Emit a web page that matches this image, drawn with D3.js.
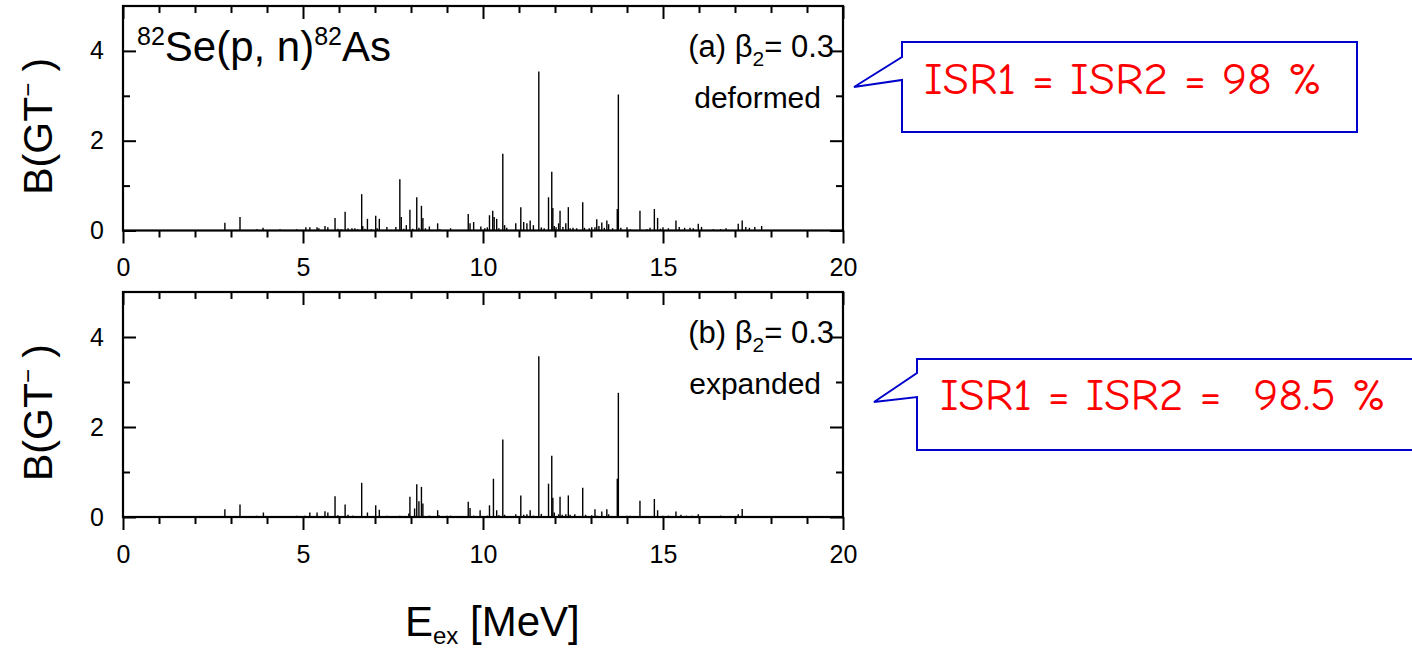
<!DOCTYPE html>
<html><head><meta charset="utf-8">
<script src="https://cdn.jsdelivr.net/npm/d3@7"></script>
<style>
html,body{margin:0;padding:0;background:#fff;}
svg{display:block;font-family:"Liberation Sans",Arial,sans-serif;}
</style></head>
<body>
<script>
// ---------- data ----------
const xTickLabels = [0, 5, 10, 15, 20];
const yTickLabels = [0, 2, 4];

const energiesA = [2.83,3.25,3.72,3.89,4.36,4.83,5.08,5.19,5.39,5.44,5.61,5.69,5.89,5.97,6.06,6.17,6.25,6.36,6.44,6.52,
  6.63,6.66,6.72,6.79,6.90,7.02,7.06,7.12,7.33,7.58,7.69,7.73,7.80,7.87,7.97,8.05,8.16,8.22,8.29,8.33,
  8.40,8.51,8.74,8.80,9.10,9.59,9.64,9.74,9.94,10.05,10.12,10.18,10.27,10.31,10.38,10.44,10.55,10.60,10.66,10.91,
  11.05,11.13,11.22,11.31,11.40,11.55,11.62,11.70,11.82,11.91,11.94,11.98,12.03,12.10,12.14,12.22,12.30,12.37,12.42,12.50,
  12.60,12.77,12.82,12.95,13.02,13.11,13.16,13.22,13.30,13.37,13.44,13.49,13.60,13.73,13.76,13.83,14.00,14.09,14.36,14.55,
  14.64,14.76,14.85,14.93,15.00,15.15,15.36,15.45,15.60,15.75,15.84,15.98,16.07,16.40,16.60,16.75,17.09,17.20,17.30,17.40,
  17.55,17.74];
const strengthsA = [0.17,0.30,0.03,0.06,0.03,0.03,0.07,0.07,0.07,0.05,0.10,0.07,0.28,0.04,0.03,0.42,0.05,0.05,0.05,0.03,
  0.81,0.10,0.04,0.26,0.03,0.33,0.05,0.26,0.08,0.08,1.14,0.30,0.04,0.12,0.46,0.04,0.74,0.06,0.55,0.28,
  0.05,0.09,0.16,0.03,0.05,0.37,0.16,0.19,0.09,0.05,0.07,0.34,0.44,0.30,0.26,0.05,1.71,0.12,0.06,0.16,
  0.52,0.19,0.16,0.22,0.12,3.54,0.07,0.05,0.74,1.31,0.50,0.10,0.07,0.16,0.44,0.08,0.16,0.52,0.05,0.06,
  0.05,0.63,0.06,0.05,0.07,0.07,0.25,0.10,0.18,0.06,0.22,0.14,0.05,0.48,3.03,0.06,0.07,0.03,0.44,0.03,
  0.06,0.48,0.28,0.04,0.07,0.05,0.22,0.08,0.06,0.06,0.05,0.15,0.08,0.03,0.03,0.05,0.15,0.22,0.08,0.06,
  0.08,0.10];

const energiesB = [2.83,3.25,3.72,3.90,4.36,4.83,5.05,5.19,5.39,5.61,5.69,5.89,5.97,6.17,6.25,6.38,6.63,6.79,7.02,7.12,
  7.33,7.69,7.94,7.97,8.10,8.16,8.22,8.29,8.33,8.51,8.74,8.78,9.00,9.10,9.59,9.64,9.74,9.92,10.12,10.18,
  10.29,10.38,10.44,10.55,10.60,10.91,11.05,11.13,11.22,11.31,11.40,11.55,11.62,11.82,11.91,11.94,11.98,12.10,12.14,12.20,
  12.30,12.37,12.42,12.55,12.77,12.85,13.02,13.11,13.16,13.30,13.44,13.49,13.73,13.76,14.00,14.09,14.36,14.76,14.85,15.00,
  15.15,15.36,15.50,15.65,15.80,15.98,16.50,16.60,17.09,17.20,17.35,17.50,17.70];
const strengthsB = [0.17,0.28,0.03,0.10,0.02,0.03,0.03,0.10,0.10,0.13,0.10,0.46,0.04,0.28,0.05,0.03,0.76,0.10,0.26,0.16,
  0.03,0.03,0.08,0.45,0.19,0.73,0.35,0.67,0.30,0.03,0.15,0.04,0.03,0.03,0.34,0.20,0.03,0.15,0.03,0.26,
  0.85,0.15,0.04,1.72,0.05,0.06,0.48,0.05,0.06,0.15,0.03,3.57,0.07,0.74,1.36,0.43,0.10,0.06,0.45,0.05,
  0.06,0.48,0.05,0.06,0.65,0.05,0.04,0.17,0.03,0.12,0.17,0.06,0.85,2.76,0.03,0.03,0.36,0.40,0.15,0.03,
  0.03,0.12,0.05,0.03,0.03,0.06,0.02,0.03,0.06,0.18,0.02,0.02,0.02];

const panelLabelA = ["(a)", "deformed"];
const panelLabelB = ["(b)", "expanded"];
const betaValue = "0.3";
const isrTexts = ["ISR1 = ISR2 = 98 %", "ISR1 = ISR2 =  98.5 %"];

// ---------- layout ----------
const W = 1412, H = 654;
const svg = d3.select("body").append("svg").attr("width", W).attr("height", H);

const x = d3.scaleLinear().domain([0, 20]).range([123, 843]);
const majorX = xTickLabels;
const minorX = d3.range(0, 21).filter(v => v % 5 !== 0);
const minorY = [1, 3];

function drawPanel(top, bottom, energies, strengths, lbl) {
  const y = d3.scaleLinear().domain([0, 5]).range([bottom, top]);
  const g = svg.append("g");

  // bars
  g.selectAll("line.bar").data(energies.map((e, i) => [e, strengths[i]]))
    .enter().append("line").attr("class", "bar")
    .attr("x1", d => x(d[0])).attr("x2", d => x(d[0]))
    .attr("y1", y(0)).attr("y2", d => y(d[1]))
    .attr("stroke", "#000").attr("stroke-width", 1.4);

  const style = sel => {
    sel.select(".domain").remove();
    sel.selectAll(".tick line").attr("stroke", "#000").attr("stroke-width", 2);
    sel.selectAll(".tick text").attr("fill", "#000").style("font-size", "25px")
      .style("font-family", '"Liberation Sans",Arial,sans-serif');
  };

  // bottom axis (outward ticks + labels)
  g.append("g").attr("transform", `translate(0,${bottom})`)
    .call(d3.axisBottom(x).tickValues(majorX).tickSize(13).tickPadding(15).tickFormat(d3.format("d"))).call(style);
  g.append("g").attr("transform", `translate(0,${bottom})`)
    .call(d3.axisBottom(x).tickValues(minorX).tickSize(7).tickFormat("")).call(style);
  // top axis (inward)
  g.append("g").attr("transform", `translate(0,${top})`)
    .call(d3.axisTop(x).tickValues(majorX).tickSize(-13).tickFormat("")).call(style);
  g.append("g").attr("transform", `translate(0,${top})`)
    .call(d3.axisTop(x).tickValues(minorX).tickSize(-7).tickFormat("")).call(style);
  // left axis (inward + labels)
  g.append("g").attr("transform", `translate(${x(0)},0)`)
    .call(d3.axisLeft(y).tickValues(yTickLabels).tickSize(-13).tickPadding(19).tickFormat(d3.format("d"))).call(style);
  g.append("g").attr("transform", `translate(${x(0)},0)`)
    .call(d3.axisLeft(y).tickValues(minorY).tickSize(-7).tickFormat("")).call(style);
  // right axis (inward)
  g.append("g").attr("transform", `translate(${x(20)},0)`)
    .call(d3.axisRight(y).tickValues(yTickLabels).tickSize(-13).tickFormat("")).call(style);
  g.append("g").attr("transform", `translate(${x(20)},0)`)
    .call(d3.axisRight(y).tickValues(minorY).tickSize(-7).tickFormat("")).call(style);

  // frame
  g.append("rect").attr("x", x(0)).attr("y", top).attr("width", x(20) - x(0)).attr("height", bottom - top)
    .attr("fill", "none").attr("stroke", "#000").attr("stroke-width", 2.2);

  // panel label
  const t = g.append("text").attr("x", 834).attr("y", top + 51).attr("text-anchor", "end")
    .style("font-size", "31px").attr("fill", "#000");
  t.append("tspan").text(lbl[0] + "  \u03B2");
  t.append("tspan").attr("dy", 9).style("font-size", "21px").text("2");
  t.append("tspan").attr("dy", -9).text("= " + betaValue);
  g.append("text").attr("x", 821).attr("y", top + 102).attr("text-anchor", "end")
    .style("font-size", "30px").attr("fill", "#000").text(lbl[1]);

  // y-axis title
  const yt = g.append("text").attr("transform", `translate(52,${(top + bottom) / 2 + 8}) rotate(-90)`)
    .attr("text-anchor", "middle").style("font-size", "41px").attr("fill", "#000");
  yt.append("tspan").text("B(GT");
  yt.append("tspan").attr("dy", -16).style("font-size", "24px").text("\u2212");
  yt.append("tspan").attr("dy", 16).text(" )");
  return y;
}

drawPanel(6, 230.5, energiesA, strengthsA, panelLabelA);
drawPanel(292, 517, energiesB, strengthsB, panelLabelB);

// title of top panel
const title = svg.append("text").attr("x", 137).attr("y", 61).style("font-size", "42px").attr("fill", "#000");
title.append("tspan").attr("dy", -16).style("font-size", "25px").text("82");
title.append("tspan").attr("dy", 16).text("Se(p, n)");
title.append("tspan").attr("dy", -16).style("font-size", "25px").text("82");
title.append("tspan").attr("dy", 16).text("As");

// x-axis title
const xt = svg.append("text").attr("x", 405).attr("y", 636).style("font-size", "42px").attr("fill", "#000");
xt.append("tspan").text("E");
xt.append("tspan").attr("dy", 8).style("font-size", "24px").text("ex");
xt.append("tspan").attr("dy", -8).text(" [MeV]");

// callouts
function callout(box, tip, joinY, txt, tx, ty, tlen) {
  const [l, t, r, b] = box;
  const p = d3.path();
  p.moveTo(l, joinY[0]); p.lineTo(l, t); p.lineTo(r, t); p.lineTo(r, b); p.lineTo(l, b);
  p.lineTo(l, joinY[1]); p.lineTo(tip[0], tip[1]); p.closePath();
  svg.append("path").attr("d", p.toString()).attr("fill", "#fff").attr("stroke", "#0000cc").attr("stroke-width", 2);
  svg.append("text").attr("x", tx).attr("y", ty).attr("textLength", tlen).attr("lengthAdjust", "spacingAndGlyphs")
    .style("font-family", '"Comic Sans MS","Comic Neue",Lato,sans-serif').style("font-size", "44px")
    .attr("fill", "#ff0000").style("white-space", "pre").text(txt);
}
callout([902, 42, 1357, 132], [854, 87], [57, 80], isrTexts[0], 924, 94, 398);
callout([917, 359, 1422, 450], [874, 402], [373, 397], isrTexts[1], 940, 410, 446);
</script>
</body></html>
